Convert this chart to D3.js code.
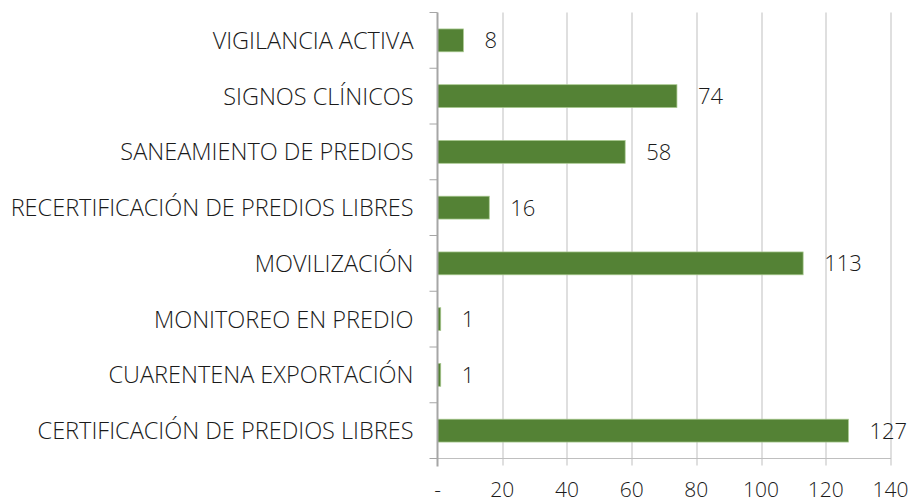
<!DOCTYPE html>
<html>
<head>
<meta charset="utf-8">
<script src="https://cdnjs.cloudflare.com/ajax/libs/d3/7.8.5/d3.min.js"></script>
<style>
  body { margin: 0; background: #fff; }
  svg text { font-family: "Open Sans", sans-serif; font-weight: 300; fill: #1a1a1a; }
</style>
</head>
<body>
<svg id="chart" width="913" height="502"></svg>
<script>
var categories = [
  'VIGILANCIA ACTIVA',
  'SIGNOS CLÍNICOS',
  'SANEAMIENTO DE PREDIOS',
  'RECERTIFICACIÓN DE PREDIOS LIBRES',
  'MOVILIZACIÓN',
  'MONITOREO EN PREDIO',
  'CUARENTENA EXPORTACIÓN',
  'CERTIFICACIÓN DE PREDIOS LIBRES'
];
var values = [8, 74, 58, 16, 113, 1, 1, 127];
var xTicks = [0, 20, 40, 60, 80, 100, 120, 140];

var margin = {top: 12.5, left: 437.5, right: 22.5, bottom: 43.5};
var width = 913 - margin.left - margin.right;
var height = 502 - margin.top - margin.bottom;

var svg = d3.select('#chart');
var g = svg.append('g')
  .attr('transform', 'translate(' + margin.left + ',' + margin.top + ')');

var x = d3.scaleLinear().domain([0, 140]).range([0, width]);
var y = d3.scaleBand().domain(categories).range([0, height]).paddingInner(0.59).paddingOuter(0.295);

// gridlines
g.selectAll('.grid')
  .data(xTicks.slice(1))
  .enter().append('line')
    .attr('x1', function(d) { return Math.round(x(d)) + 0.5; })
    .attr('x2', function(d) { return Math.round(x(d)) + 0.5; })
    .attr('y1', 0)
    .attr('y2', height + 7)
    .attr('stroke', '#bfbfbf')
    .attr('stroke-width', 1);

// bottom axis line
g.append('line')
  .attr('x1', 0).attr('x2', width + 0.5)
  .attr('y1', height).attr('y2', height)
  .attr('stroke', '#bfbfbf');

// bars
g.selectAll('.bar')
  .data(values)
  .enter().append('rect')
    .attr('x', 0)
    .attr('y', function(d, i) { return y(categories[i]); })
    .attr('width', function(d) { return x(d); })
    .attr('height', y.bandwidth())
    .attr('fill', '#548235')
    .attr('stroke', '#a9c98f')
    .attr('stroke-width', 0.75);

// value labels
g.selectAll('.val')
  .data(values)
  .enter().append('text')
    .attr('x', function(d) { return x(d) + 21; })
    .attr('y', function(d, i) { return y(categories[i]) + y.bandwidth() / 2; })
    .attr('dy', '0.36em')
    .style('font-size', '22px')
    .text(function(d) { return d; });

// left axis with category ticks
var catTicks = d3.range(categories.length + 1).map(function(i) { return i * height / categories.length; });
g.selectAll('.ctick')
  .data(catTicks)
  .enter().append('line')
    .attr('x1', -8).attr('x2', 0)
    .attr('y1', function(d) { return d; })
    .attr('y2', function(d) { return d; })
    .attr('stroke', '#a6a6a6');

g.append('line')
  .attr('x1', 0).attr('x2', 0)
  .attr('y1', 0).attr('y2', height + 8)
  .attr('stroke', '#a6a6a6')
  .attr('stroke-width', 2);

// category labels
g.selectAll('.cat')
  .data(categories)
  .enter().append('text')
    .attr('x', -24)
    .attr('y', function(d) { return y(d) + y.bandwidth() / 2; })
    .attr('dy', '0.36em')
    .attr('text-anchor', 'end')
    .style('font-size', '23.5px')
    .text(function(d) { return d; });

// x tick labels
g.selectAll('.xt')
  .data(xTicks)
  .enter().append('text')
    .attr('x', function(d) { return x(d); })
    .attr('y', height + 38)
    .attr('text-anchor', 'middle')
    .style('font-size', '21px')
    .text(function(d) { return d === 0 ? '-' : d; });
</script>
</body>
</html>
